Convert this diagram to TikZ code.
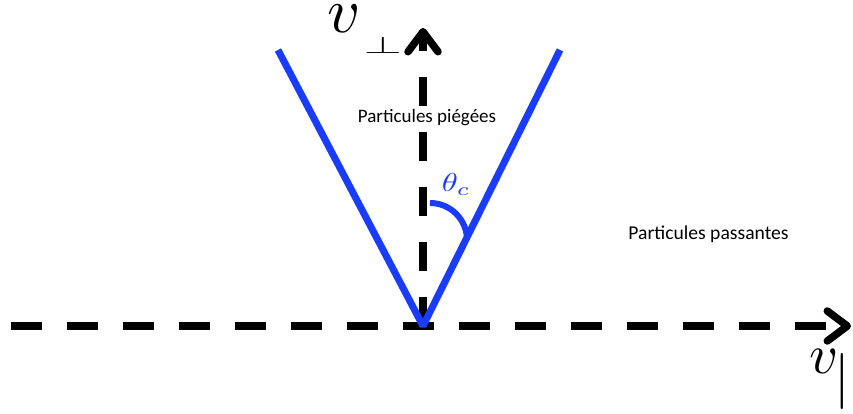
\documentclass[tikz,border=0pt]{standalone}
\usepackage{fontspec}
\newfontfamily\calib{Carlito}
\usetikzlibrary{arrows.meta}
\definecolor{vblue}{RGB}{25,60,255}
\begin{document}
\begin{tikzpicture}[x=1pt,y=1pt,
  axis/.style={line width=7.5pt, black, -{Straight Barb[length=20pt,width=30pt,line cap=round,line join=round]}},
  vline/.style={line width=7pt, vblue},
  lbl/.style={font=\calib\fontsize{19}{22}\selectfont, anchor=base, inner sep=0pt},
  mlbl/.style={inner sep=0pt},
]
\useasboundingbox (0,0) rectangle (853,414);
\coordinate (O) at (423,88);
\coordinate (W) at (11,88);
\coordinate (E) at (851,88);
\coordinate (N) at (423,386);
\coordinate (L) at (278,364);
\coordinate (R) at (560,364);
\coordinate (A) at (430,211);
\draw[axis, dash pattern=on 31pt off 25pt] (W) -- (E);
\draw[axis, dash pattern=on 29pt off 26pt] (O) -- (N);
\draw[vline, line join=bevel] (L) -- (O) -- (R);
\draw[vblue, line width=6pt] (A) arc[start angle=90, end angle=0, radius=37];
\node[mlbl, scale=6.4] (vp) at (344,395) {$v$};
\node[mlbl, xscale=4.9, yscale=2.4] (perp) at (383,369) {$\perp$};
\node[mlbl, scale=5.6] (vpar) at (824,53) {$v$};
\node[mlbl, scale=5.6] (bar) at (842,32.5) {$|$};
\node[mlbl, anchor=north, text=vblue, xscale=3.25, yscale=2.6] (th) at (456,241) {$\theta_c$};
\node[lbl] (trap) at (427,291) {Particules piégées};
\node[lbl, font=\calib\fontsize{19.6}{22}\selectfont] (pass) at (708.5,174) {Particules passantes};
\end{tikzpicture}
\end{document}
